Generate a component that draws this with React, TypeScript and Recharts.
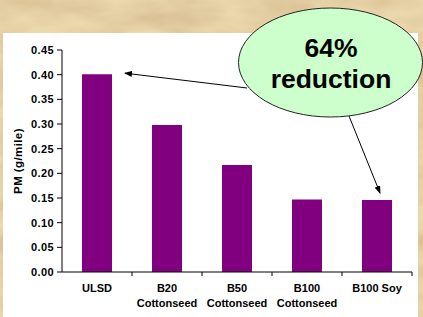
import React from 'react'
import { BarChart, Bar, XAxis, YAxis, Customized } from 'recharts'

const categories = ['ULSD', 'B20 Cottonseed', 'B50 Cottonseed', 'B100 Cottonseed', 'B100 Soy']
const categoryLines = [['ULSD'], ['B20', 'Cottonseed'], ['B50', 'Cottonseed'], ['B100', 'Cottonseed'], ['B100 Soy']]
const pmValues = [0.401, 0.298, 0.217, 0.147, 0.146]
const yTicks = [0, 0.05, 0.1, 0.15, 0.2, 0.25, 0.3, 0.35, 0.4, 0.45]
const calloutLines = ['64%', 'reduction']

const data = categories.map((name, i) => ({ name, pm: pmValues[i], lines: categoryLines[i] }))

const W = 423
const H = 317
const M = { top: 50, right: 11, bottom: 0, left: 0 }
const Y_AXIS_W = 62
const X_AXIS_H = 45
const PLOT_L = M.left + Y_AXIS_W
const PLOT_T = M.top
const PLOT_W = W - M.right - PLOT_L
const PLOT_H = H - X_AXIS_H - PLOT_T
const BAND = PLOT_W / categories.length
const Y_MAX = 0.45

const FONT = "Arial, 'Liberation Sans', sans-serif"

// same mapping the axes use, for pointing the arrows at the bars
const xc = (i: number) => PLOT_L + (i + 0.5) * BAND
const yv = (v: number) => PLOT_T + (1 - v / Y_MAX) * PLOT_H

const XTick = ({ x, y, payload, index }: any) => {
  const lines = data[index]?.lines || [payload.value]
  return (
    <g>
      <line x1={x + BAND / 2} y1={y} x2={x + BAND / 2} y2={y + 4} stroke="#000" />
      <text textAnchor="middle" fontFamily={FONT} fontSize={11} fontWeight="bold" fill="#000">
        {lines.map((l: string, k: number) => (
          <tspan key={k} x={x} y={y + 20 + k * 14.5}>{l}</tspan>
        ))}
      </text>
    </g>
  )
}

const Annotations = () => {
  const a1 = { x1: 247, y1: 88, x2: xc(0) + 28, y2: yv(pmValues[0]) - 1 }
  const a2 = { x1: 349, y1: 116, x2: xc(4) + 3, y2: yv(pmValues[4]) - 7 }
  return (
    <g>
      <defs>
        <marker id="arrowHead" markerWidth="8" markerHeight="6" refX="7" refY="3" orient="auto" markerUnits="userSpaceOnUse">
          <path d="M0,0 L8,3 L0,6 Z" fill="#000" />
        </marker>
      </defs>
      <text
        transform={`translate(18, ${PLOT_T + PLOT_H / 2}) rotate(-90)`}
        textAnchor="middle"
        dominantBaseline="central"
        fontFamily={FONT}
        fontSize={11.5}
        fontWeight="bold"
        fill="#000"
        letterSpacing={0.4}
      >
        PM (g/mile)
      </text>
      <line {...a1} stroke="#000" strokeWidth={1} markerEnd="url(#arrowHead)" />
      <line {...a2} stroke="#000" strokeWidth={1} markerEnd="url(#arrowHead)" />
      <ellipse cx={330.5} cy={62.5} rx={92} ry={54.5} fill="#ccffcc" stroke="#222" strokeWidth={1} />
      <text textAnchor="middle" fontFamily={FONT} fontSize={26.5} fontWeight="bold" fill="#000">
        <tspan x={331} y={57}>{calloutLines[0]}</tspan>
        <tspan x={331} y={88}>{calloutLines[1]}</tspan>
      </text>
    </g>
  )
}

const Background = () => (
  <svg width={W} height={H} style={{ position: 'absolute', left: 0, top: 0 }}>
    <defs>
      <filter id="marble" x="0" y="0" width="100%" height="100%">
        <feTurbulence type="fractalNoise" baseFrequency="0.012 0.03" numOctaves={4} seed={7} />
        <feColorMatrix
          type="matrix"
          values="0 0 0 0 0.64  0 0 0 0 0.47  0 0 0 0 0.25  1.7 0 0 0 -0.62"
        />
      </filter>
    </defs>
    <rect x={0} y={0} width={W} height={H} fill="#ecd8ae" />
    <rect x={0} y={0} width={W} height={H} filter="url(#marble)" />
    <rect x={3} y={33} width={415} height={H - 33} fill="#ffffff" />
  </svg>
)

export default function App() {
  return (
    <div style={{ position: 'absolute', left: 0, top: 0, width: W, height: H, overflow: 'hidden' }}>
      <Background />
      <div style={{ position: 'absolute', left: 0, top: 0 }}>
        <BarChart width={W} height={H} data={data} margin={M} barCategoryGap={0}>
          <XAxis
            dataKey="name"
            height={X_AXIS_H}
            interval={0}
            tickSize={0}
            tickMargin={0}
            tickLine={false}
            axisLine={{ stroke: '#000' }}
            tick={<XTick />}
          />
          <XAxis xAxisId="top" dataKey="name" orientation="top" height={0} tick={false} tickLine={false} axisLine={{ stroke: '#777' }} />
          <YAxis
            domain={[0, Y_MAX]}
            ticks={yTicks}
            width={Y_AXIS_W}
            tickSize={5}
            tickMargin={3}
            interval={0}
            tickFormatter={(v: number) => v.toFixed(2)}
            tick={{ fontSize: 11, fontWeight: 'bold', fill: '#000', fontFamily: FONT, letterSpacing: 0.4 }}
            axisLine={{ stroke: '#000' }}
            tickLine={{ stroke: '#000' }}
          />
          <YAxis yAxisId="r" orientation="right" width={0} domain={[0, Y_MAX]} tick={false} tickLine={false} axisLine={{ stroke: '#555' }} />
          <Bar dataKey="pm" fill="#800080" barSize={30} isAnimationActive={false} />
          <Customized component={<Annotations />} />
        </BarChart>
      </div>
    </div>
  )
}
